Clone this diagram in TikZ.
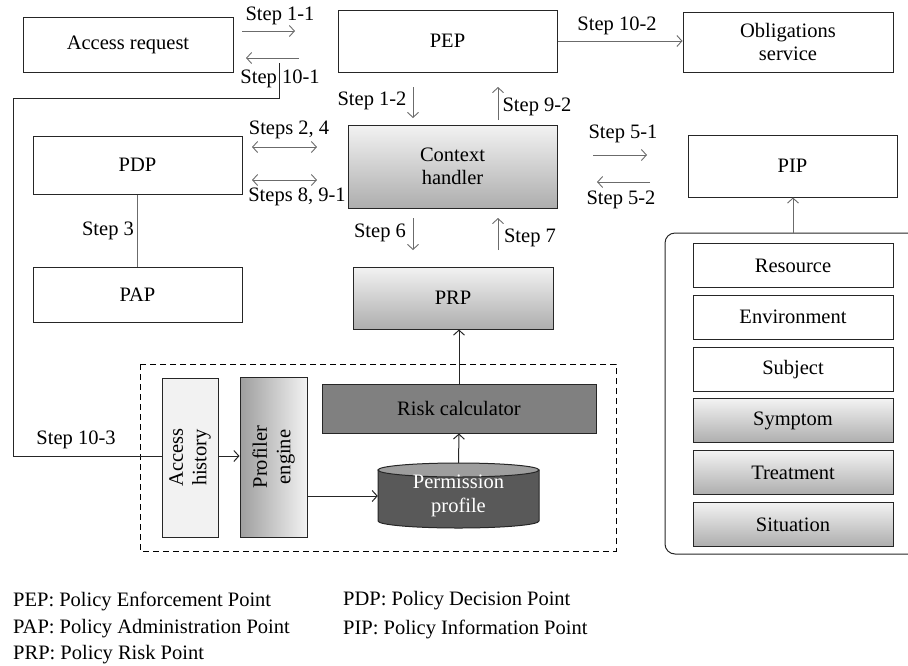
\documentclass[tikz,border=0pt]{standalone}
\usepackage{fontspec}
\setmainfont{Liberation Serif}
\usepackage{tikz}
\usetikzlibrary{positioning, arrows.meta}

\definecolor{shadetop}{gray}{0.95}
\definecolor{shadebot}{gray}{0.68}
\definecolor{linegray}{gray}{0.42}
\definecolor{riskgray}{gray}{0.50}
\definecolor{cylbody}{gray}{0.35}
\definecolor{cyltop}{gray}{0.62}
\definecolor{histfill}{gray}{0.95}

\begin{document}
\begin{tikzpicture}[x=1pt, y=-1pt, >={Straight Barb[length=5pt,width=11pt]},
  every node/.style={font=\fontsize{20.5}{23.5}\selectfont},
  main box/.style={draw=black!85, line width=1pt, inner sep=0pt, align=center},
  shaded box/.style={main box, top color=shadetop, bottom color=shadebot},
  step arrow/.style={->, draw=linegray, line width=0.9pt},
  both arrow/.style={<->, draw=linegray, line width=0.9pt},
  wire/.style={draw=black!85, line width=1pt}]

\useasboundingbox (0,0) rectangle (908,665);

% top row
\node[main box, minimum width=210pt, minimum height=55pt] (req) at (128,44.5) {Access request};
\node[main box, minimum width=219pt, minimum height=62pt] (PEP) at (447.5,41) {PEP};
\node[main box, minimum width=210pt, minimum height=60pt] (obl) at (788,42) {Obligations\\service};

% middle
\node[main box, minimum width=209pt, minimum height=58pt] (PDP) at (137.5,165) {PDP};
\node[main box, minimum width=209pt, minimum height=55pt] (PAP) at (137.5,294.5) {PAP};
\node[shaded box, minimum width=209pt, minimum height=83pt] (ctx) at (452.5,166.5) {Context\\handler};
\node[shaded box, minimum width=200pt, minimum height=62pt] (PRP) at (453,298) {PRP};
\node[main box, minimum width=209pt, minimum height=62pt] (PIP) at (792.5,166) {PIP};

% risk engine
\draw[dashed, line width=1pt, dash pattern=on 6pt off 4pt] (140,364) rectangle (616,551);
\node[main box, fill=histfill, minimum width=56pt, minimum height=159pt] (hist) at (190,457.5) {};
\node[rotate=90, align=center, inner sep=0pt] at (hist.center) {Access\\history};
\node[main box, left color=cyltop, right color=shadetop, minimum width=67pt, minimum height=160pt] (prof) at (273.5,457) {};
\node[rotate=90, align=center, inner sep=0pt] at (prof.center) {Profiler\\engine};
\node[main box, fill=riskgray, minimum width=274pt, minimum height=49pt] (risk) at (459,408.5) {Risk calculator};

\draw[wire, fill=cylbody] (378,470) -- (378,521)
  arc[start angle=180, end angle=360, x radius=80.5pt, y radius=7pt] -- (539,470) -- cycle;
\draw[wire, fill=cyltop] (458.5,470) ellipse [x radius=80.5pt, y radius=7pt];
\node[align=center, text=white, minimum width=161pt, minimum height=66pt, inner sep=0pt] (perm) at (458.5,496) {Permission\\profile};

% attribute sources
\draw[wire, rounded corners=10pt] (908,233) -- (665,233) -- (665,554) -- (908,554);
\coordinate (attr) at (793,233);
\foreach \lbl [count=\i from 0] in {Resource, Environment, Subject}
  \node[main box, minimum width=200pt, minimum height=44pt] (attr\i) at (793,{265.5+51.8*\i}) {\lbl};
\foreach \lbl [count=\i from 3] in {Symptom, Treatment, Situation}
  \node[shaded box, minimum width=200pt, minimum height=44pt] (attr\i) at (793,{265.5+51.8*\i}) {\lbl};

% step labels
\node (s11) at (280,16) {Step 1-1};
\node (s101) at (280,79) {Step 10-1};
\node (s102) at (617,26) {Step 10-2};
\node (s12) at (372,101) {Step 1-2};
\node (s92) at (537,107) {Step 9-2};
\node (s24) at (289,130) {Steps 2, 4};
\node (s891) at (297,197) {Steps 8, 9-1};
\node (s3) at (108,231) {Step 3};
\node (s6) at (380,233) {Step 6};
\node (s7) at (530,238) {Step 7};
\node (s51) at (623,134) {Step 5-1};
\node (s52) at (621,200) {Step 5-2};
\node (s103) at (76,440) {Step 10-3};

% free step arrows
\coordinate (a11) at (242,31);   \coordinate (b11) at (295,31);
\coordinate (a101) at (299,58);  \coordinate (b101) at (246,58);
\coordinate (a12) at (413,87);   \coordinate (b12) at (413,118);
\coordinate (a92) at (498,120);  \coordinate (b92) at (498,87);
\coordinate (a24) at (252,147);  \coordinate (b24) at (317,147);
\coordinate (a891) at (252,180); \coordinate (b891) at (317,180);
\coordinate (a51) at (593,155);  \coordinate (b51) at (647,155);
\coordinate (a52) at (650,182);  \coordinate (b52) at (597,182);
\coordinate (a6) at (413,218);   \coordinate (b6) at (413,250);
\coordinate (a7) at (498,250);   \coordinate (b7) at (498,218);

\foreach \s in {11, 101, 12, 92, 51, 52, 6, 7}
  \draw[step arrow] (a\s) -- (b\s);
\draw[both arrow] (a24) -- (b24);
\draw[both arrow] (a891) -- (b891);

% connectors
\draw[step arrow] (PEP.east) -- (obl.west |- PEP.east);
\draw[draw=linegray, line width=0.9pt] (PDP) -- (PAP);
\draw[step arrow] (attr) -- (attr |- PIP.south);
\draw[->, wire] (risk.north) -- (risk.north |- PRP.south);
\draw[->, wire] (perm.north) -- (risk.south);
\draw[->, wire] (hist.east |- 0,456) -- (prof.west |- 0,456);
\draw[->, wire] (prof.east |- 0,496) -- (perm.west |- 0,496);

\coordinate (ret) at (279,63);
\coordinate (turn) at (13,98);
\draw[wire] (ret) |- (turn) |- (hist.west |- 0,456);

% legend
\node[anchor=west, inner sep=0pt] (legPEP) at (13,601) {PEP: Policy Enforcement Point};
\node[anchor=west, inner sep=0pt] (legPAP) at (13,629) {PAP: Policy Administration Point};
\node[anchor=west, inner sep=0pt] (legPRP) at (13,655) {PRP: Policy Risk Point};
\node[anchor=west, inner sep=0pt] (legPDP) at (343,601) {PDP: Policy Decision Point};
\node[anchor=west, inner sep=0pt] (legPIP) at (343,629) {PIP: Policy Information Point};

\end{tikzpicture}
\end{document}
